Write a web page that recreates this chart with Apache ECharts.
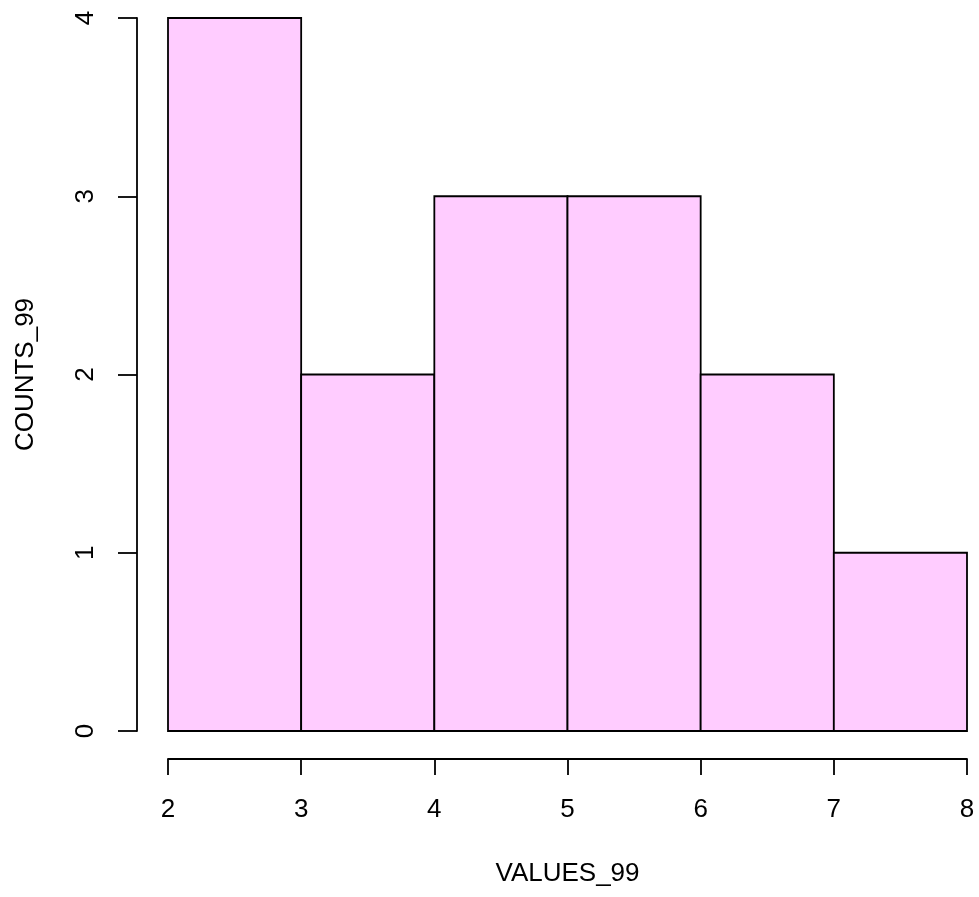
<!DOCTYPE html>
<html>
<head>
<meta charset="utf-8">
<script src="https://cdn.jsdelivr.net/npm/echarts@6/dist/echarts.min.js"></script>
<style>html,body{margin:0;padding:0;background:#fff;}#c{width:979px;height:897px;}</style>
</head>
<body>
<div id="c"></div>
<script>
const binStarts = [2, 3, 4, 5, 6, 7];
const binEnds = [3, 4, 5, 6, 7, 8];
const counts = [4, 2, 3, 3, 2, 1];
const xTicks = [2, 3, 4, 5, 6, 7, 8];
const yTicks = [0, 1, 2, 3, 4];
const xTitle = 'VALUES_99';
const yTitle = 'COUNTS_99';

const data = binStarts.map((s, i) => [s, binEnds[i], counts[i]]);
const chart = echarts.init(document.getElementById('c'), null, {renderer: 'canvas'});
const font = 'Liberation Sans, Arial, sans-serif';
const fs = 26;
chart.setOption({
  animation: false,
  backgroundColor: '#ffffff',
  grid: {left: 168, right: 12, top: 18, bottom: 166},
  xAxis: {
    type: 'value', min: xTicks[0], max: xTicks[xTicks.length - 1], interval: 1,
    offset: 28,
    axisLine: {show: true, onZero: false, lineStyle: {color: '#000', width: 1.8}},
    axisTick: {show: true, length: 16, lineStyle: {color: '#000', width: 1.8}},
    axisLabel: {color: '#000', fontSize: fs, fontFamily: font, margin: 38},
    splitLine: {show: false},
    name: xTitle, nameLocation: 'middle', nameGap: 102,
    nameTextStyle: {color: '#000', fontSize: fs, fontFamily: font}
  },
  yAxis: {
    type: 'value', min: yTicks[0], max: yTicks[yTicks.length - 1], interval: 1,
    offset: 31,
    axisLine: {show: true, onZero: false, lineStyle: {color: '#000', width: 1.8}},
    axisTick: {show: true, length: 19, lineStyle: {color: '#000', width: 1.8}},
    axisLabel: {color: '#000', fontSize: fs, fontFamily: font, rotate: 90, margin: 38},
    splitLine: {show: false},
    name: yTitle, nameLocation: 'middle', nameGap: 98, nameRotate: 90,
    nameTextStyle: {color: '#000', fontSize: fs, fontFamily: font}
  },
  series: [{
    type: 'custom',
    data: data,
    encode: {x: [0, 1], y: 2},
    renderItem: function (params, api) {
      const p0 = api.coord([api.value(0), api.value(2)]);
      const p1 = api.coord([api.value(1), 0]);
      return {
        type: 'rect',
        shape: {x: p0[0], y: p0[1], width: p1[0] - p0[0], height: p1[1] - p0[1]},
        style: {fill: '#FFCCFF', stroke: '#000', lineWidth: 1.8}
      };
    }
  }]
});
</script>
</body>
</html>
